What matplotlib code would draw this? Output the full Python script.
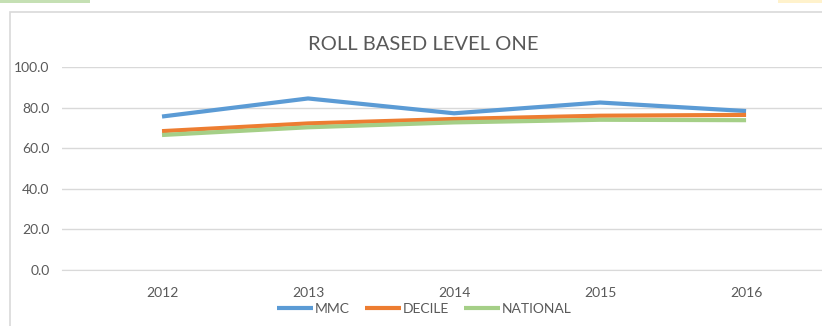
import matplotlib.pyplot as plt
from matplotlib.patches import Rectangle

years = [2012, 2013, 2014, 2015, 2016]
mmc = [75.6, 84.5, 77.2, 82.5, 78.3]
decile = [68.4, 72.2, 74.4, 76.0, 76.4]
national = [66.5, 70.3, 72.7, 74.0, 73.8]

series_names = ["MMC", "DECILE", "NATIONAL"]
series_colors = ["#5B9BD5", "#ED7D31", "#A5CF87"]

plt.rcParams["font.family"] = ["Lato", "DejaVu Sans"]
text_color = "#595959"
grid_color = "#D9D9D9"

fig = plt.figure(figsize=(8.22, 3.26), dpi=100)

# chart frame and the neighbouring tab strips
fig.patches.append(Rectangle((10 / 822, -0.1), 1.2, 1 - 12 / 326 + 0.1,
                             transform=fig.transFigure, fill=False,
                             edgecolor=grid_color, linewidth=1.2))
fig.patches.append(Rectangle((0, 1 - 3 / 326), 90 / 822, 3 / 326,
                             transform=fig.transFigure, color="#C5E0B4", linewidth=0))
fig.patches.append(Rectangle((778 / 822, 1 - 3 / 326), 44 / 822, 3 / 326,
                             transform=fig.transFigure, color="#FFF2CC", linewidth=0))

ax = fig.add_axes([62 / 822, 1 - 270 / 326, 760 / 822, (270 - 67) / 326])

for vals, name, color in zip([mmc, decile, national], series_names, series_colors):
    ax.plot(years, vals, color=color, linewidth=3.0, label=name, solid_capstyle="butt")

ax.set_ylim(0, 100)
ax.set_xlim(2012 - 0.685, 2016 + 0.52)
ax.set_yticks([0, 20, 40, 60, 80, 100])
ax.set_yticklabels([f"{v:.1f}" for v in [0, 20, 40, 60, 80, 100]])
ax.set_xticks(years)
ax.set_xticklabels([str(y) for y in years])
ax.tick_params(axis="both", length=0, labelsize=10, labelcolor=text_color)
ax.tick_params(axis="x", pad=12)
ax.tick_params(axis="y", pad=9)

ax.grid(axis="y", color=grid_color, linewidth=1.0)
ax.set_axisbelow(True)
for side in ["top", "right", "left"]:
    ax.spines[side].set_visible(False)
ax.spines["bottom"].set_color(grid_color)

fig.text(423 / 822, 1 - 44 / 326, "ROLL BASED LEVEL ONE", ha="center", va="center",
         fontsize=14.5, color=text_color)

fig.legend(loc="center", bbox_to_anchor=(424 / 822, 1 - 309 / 326), ncol=3,
           frameon=False, fontsize=10, labelcolor=text_color, handlelength=2.6,
           handletextpad=0.1, columnspacing=1.1)

fig.savefig("out.png", dpi=100)
